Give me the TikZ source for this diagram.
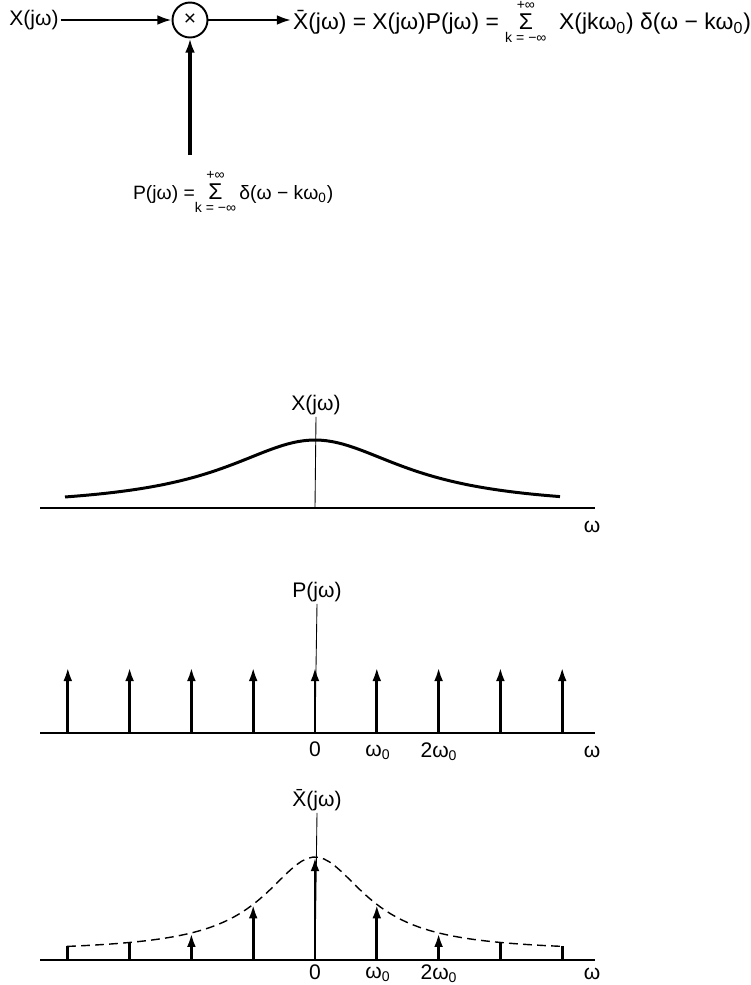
\documentclass[tikz,border=0pt]{standalone}
\usepackage{fontspec}
\setmainfont{Liberation Sans}
\usetikzlibrary{arrows.meta}

\newcommand{\bigsum}[2]{$\displaystyle\mathop{\hbox{\fontsize{13}{13}\selectfont Σ}}\limits^{\hbox{\fontsize{8}{8}\selectfont #1}}_{\hbox{\fontsize{8}{8}\selectfont #2}}$}

\begin{document}
\begin{tikzpicture}[x=0.02cm, y=-0.02cm,
            lbl/.style={font=\fontsize{12}{14}\selectfont, inner sep=1pt},
            sig/.style={-{Latex[length=8pt,width=5.5pt]}, line width=1.3pt},
            mult/.style={circle, draw, line width=1.1pt, minimum size=0.7cm, inner sep=0pt, font=\fontsize{12}{12}\selectfont},
            pulse/.style={-{Latex[length=8pt,width=5pt]}, line width=1.7pt},
            stub/.style={line width=1.7pt},
            env/.style={dashed, dash pattern=on 5pt off 3pt, line width=0.8pt},
            axis/.style={line width=0.9pt},
            yax/.style={line width=0.5pt}
        ]
    \useasboundingbox (0,0) rectangle (751,985);

    % multiplier block
    \node[lbl] (xin) at (34,20) {X(jω)};
    \node[mult] (prod) at (190,20) {×};
    \node[lbl, font=\fontsize{13}{15}\selectfont, anchor=west] (xbar) at (291,22)
        {\={X}(jω) = X(jω)P(jω) = \bigsum{+∞}{k = −∞}\ \ X(jkω\textsubscript{0})\ δ(ω − kω\textsubscript{0})};
    \node[lbl, font=\fontsize{11}{13}\selectfont, anchor=west] (pfm) at (131,192)
        {P(jω) =\bigsum{+∞}{k = −∞}\,δ(ω − kω\textsubscript{0})};
    \coordinate (pin) at (190,155);

    \draw[sig] (xin) -- (prod);
    \draw[sig] (prod) -- (xbar.west |- prod);
    \draw[sig, line width=2pt] (pin) -- (prod);

    % X(jw)
    \node[lbl] (lx) at (316,405) {X(jω)};
    \draw[axis] (40,508) -- (595,508);
    \draw[yax] (315,508) -- (lx.south);
    \draw[line width=1.7pt, domain=-250:245, samples=90]
        plot ({315+\x}, {508-68/(1+(\x/110)^2)});
    \node[lbl] (w1) at (592,527) {ω};

    % P(jw)
    \node[lbl] (lp) at (317,592) {P(jω)};
    \draw[axis] (40,733) -- (595,733);
    \draw[yax] (315,733) -- (lp.south);
    \foreach \k in {-4,...,4}
        \draw[pulse] ({315+61.8*\k},733) -- ++(0,-66);
    \node[lbl] (p0) at (315,749) {0};
    \node[lbl] (p1) at (378,752) {ω\textsubscript{0}};
    \node[lbl] (p2) at (439,752) {2ω\textsubscript{0}};
    \node[lbl] (w2) at (592,752) {ω};

    % sampled spectrum
    \node[lbl] (ls) at (317,800) {\={X}(jω)};
    \draw[axis] (40,960) -- (595,960);
    \draw[yax] (315,960) -- (ls.south);
    \draw[env, domain=-248:249, samples=90]
        plot ({315+\x}, {960-8-95/(1+(\x/62)^2)});
    \foreach \k in {-2,...,2}
        \draw[pulse] ({315+61.8*\k},960) -- ++(0,{-8-95/(1+(61.8*\k/62)^2)});
    \foreach \k in {-4,-3,3,4}
        \draw[stub] ({315+61.8*\k},960) -- ++(0,{-8-95/(1+(61.8*\k/62)^2)});
    \node[lbl] (s0) at (315,972) {0};
    \node[lbl] (s1) at (378,974) {ω\textsubscript{0}};
    \node[lbl] (s2) at (439,974) {2ω\textsubscript{0}};
    \node[lbl] (w3) at (592,974) {ω};

\end{tikzpicture}
\end{document}
